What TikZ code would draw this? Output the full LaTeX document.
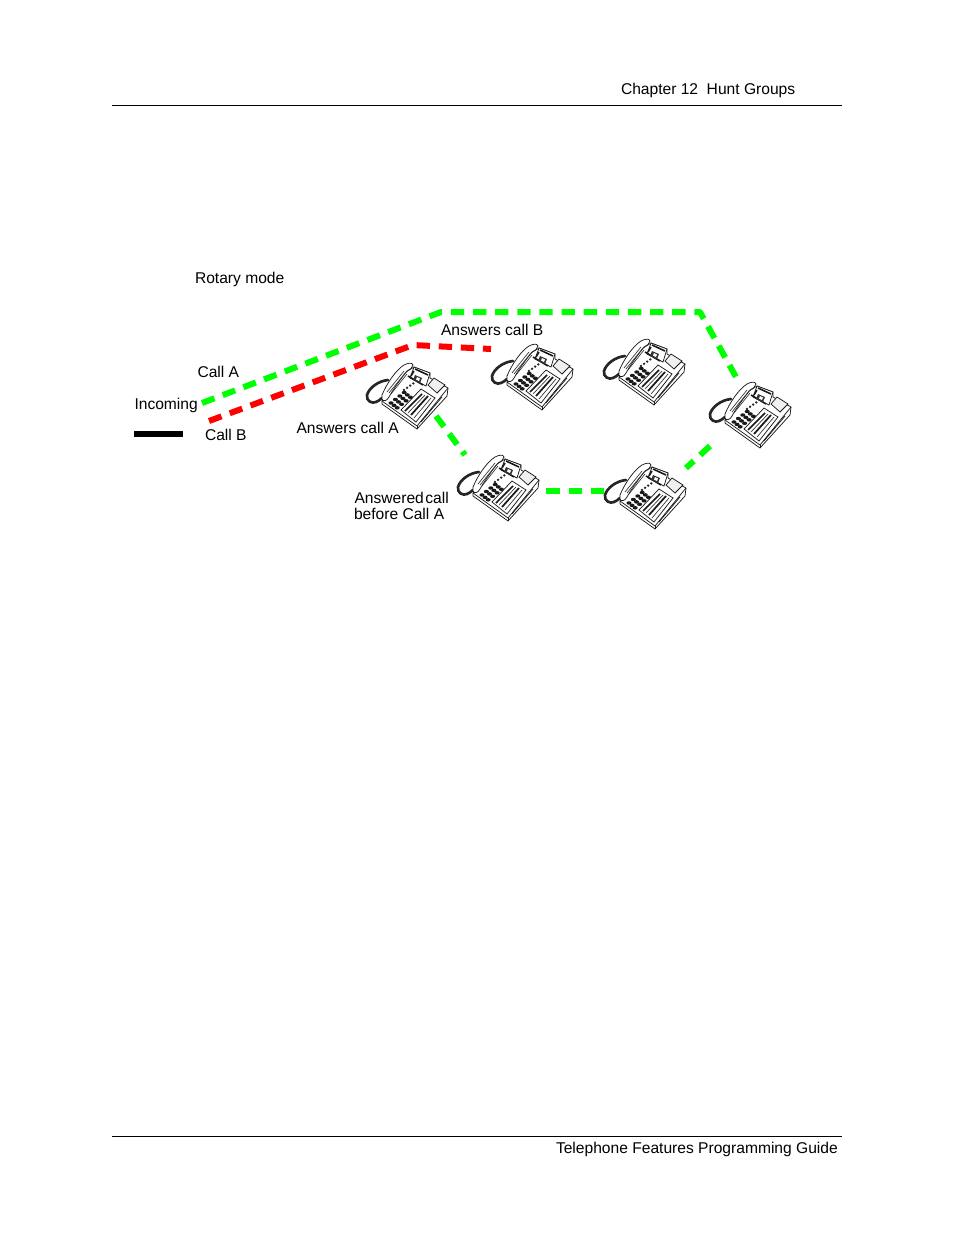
\documentclass[tikz,border=0pt]{standalone}
\usepackage{fontspec}
\setmainfont{Liberation Sans}
\definecolor{callgreen}{RGB}{0,255,0}
\definecolor{callred}{RGB}{255,0,0}
\tikzset{
  x=0.75pt,y=-0.75pt,
  lbl/.style={anchor=base west,inner sep=0pt,outer sep=0pt,font=\fontsize{11.7pt}{13pt}\selectfont},
  rulefine/.style={line width=0.75pt,black},
  callA/.style={line width=4.5pt,callgreen,dash pattern=on 10pt off 6.6pt},
  callB/.style={line width=4.5pt,callred,dash pattern=on 10pt off 6.6pt},
  thin ph/.style={line width=0.55pt,black!90},
  phone/.pic={
    % body
    \draw[thin ph,fill=white,line join=round] (22,51)--(46,22)--(54,17)--(70,23)--(70,28)--(88,38)--(87,46)--(57,79)--(22,54)--cycle;
    \draw[thin ph] (22,51)--(57,76)--(88,38);
    \draw[thin ph] (57,76)--(57,79);
    % cord
    \draw[line width=2pt,black!85,line cap=round] (28,30) .. controls (18,31) and (9,38) .. (7,45) .. controls (6,51) and (12,54) .. (16,52) .. controls (18,51) and (20,50) .. (22,48);
    % handset
    \draw[thin ph,fill=white] (22,45) .. controls (27,33) and (36,20) .. (44,15) .. controls (48,13) and (52,12) .. (53,15) .. controls (53,18) and (50,19) .. (47,21) .. controls (40,30) and (34,38) .. (29,47) .. controls (27,51) and (23,52) .. (22,49) -- cycle;
    \draw[line width=0.5pt,black!80] (27,42)--(44,21) (29,43)--(46,22) (31,44)--(47,24);
    % display and cradle
    \draw[thin ph,fill=white] (54,17)--(70,23)--(66,36)--(50,28)--cycle;
    \draw[line width=1.2pt,black!90] (55,19)--(68,25) (48,26)--(63,35) (54,21)--(51,26);
    \fill[black!80] (55,25)--(62,28)--(60,33)--(53,30)--cycle;
    \fill[white] (57,27)--(60,28.5)--(59,31)--(56,29.5)--cycle;
    % note panel
    \draw[thin ph,fill=black!6] (74,28)--(85,35)--(77,43)--(68,35)--cycle;
    % keypad
    \foreach \i in {0,...,2}{\foreach \j in {0,...,3}{
      \fill[black!90] ({31+\j*4.4+\i*3.1},{53-\j*3.5+\i*2.4}) ellipse[x radius=1.9pt,y radius=1.3pt];
    }}
    \foreach \j in {0,...,3}{
      \fill[black!85] ({44+\j*3.1},{40-\j*2.2}) circle[radius=1pt];
    }
    % feature key strips
    \draw[thin ph] (41,60)--(61,39)--(75,48)--(56,72)--cycle;
    \draw[line width=1.3pt,black!90] (45,61)--(62,44);
    \draw[line width=1.3pt,black!90] (51,65)--(68,46);
    \draw[line width=0.5pt,black!80] (48,63)--(65,45) (54,68)--(71,48);
    \draw[thin ph] (61,72)--(82,47);
  }
}
\begin{document}
\begin{tikzpicture}
\useasboundingbox (0,0) rectangle (954,1235);
\coordinate (ruleTopL) at (112,105.5);
\coordinate (ruleTopR) at (842,105.5);
\coordinate (ruleBotL) at (112,1136);
\coordinate (ruleBotR) at (842,1136);
\draw[rulefine] (ruleTopL)--(ruleTopR);
\draw[rulefine] (ruleBotL)--(ruleBotR);

\node[lbl] (chap) at (621,94) {Chapter 12\hspace{0.55em}Hunt Groups};
\node[lbl] (guide) at (556,1153) {Telephone Features Programming Guide};
\node[lbl] (rotary) at (195,283) {Rotary mode};
\node[lbl] (calla) at (197.5,377) {Call A};
\node[lbl] (incoming) at (134.5,409) {Incoming};
\node[lbl] (callb) at (205,440) {Call B};
\node[lbl] (ansa) at (296.5,433) {Answers call A};
\node[lbl] (ansb) at (441,335) {Answers call B};
\node[lbl] (answered) at (354.5,503) {Answered\hspace{0.1em}call};
\node[lbl] (before) at (354,519) {before Call A};

\pic (ph1) at (360,350) {phone};
\pic (ph2) at (485,331) {phone};
\pic (ph3) at (597,326) {phone};
\pic (ph4) at (703,369) {phone};
\pic (ph5) at (451,442) {phone};
\pic (ph6) at (598,450) {phone};

\coordinate (barL) at (134,434);
\coordinate (barR) at (183,434);
\draw[line width=4.4pt,black] (barL)--(barR);

\coordinate (a0) at (202,403);
\coordinate (a1) at (441,312);
\coordinate (a2) at (700,312);
\coordinate (a3) at (736,377);
\coordinate (a4) at (710,446);
\coordinate (a5) at (686,468);
\coordinate (a6) at (604,491);
\coordinate (a7) at (546,491);
\coordinate (a8) at (465,455);
\coordinate (a9) at (436,416);
\coordinate (b0) at (209,421);
\coordinate (b1) at (413,345);
\coordinate (b2) at (491,349);
\draw[callA,line join=round] (a0)--(a1)--(a2)--(a3);
\draw[callA] (a4)--(a5);
\draw[callA] (a6)--(a7);
\draw[callA] (a9)--(a8);
\draw[callB,line join=round] (b0)--(b1)--(b2);
\end{tikzpicture}
\end{document}
